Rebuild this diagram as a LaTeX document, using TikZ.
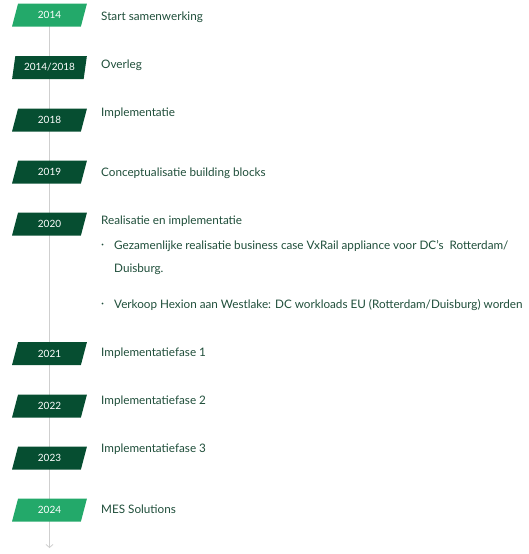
\documentclass[tikz,border=0pt]{standalone}
\usepackage{fontspec}
\setmainfont{Lato}
\usetikzlibrary{shapes.geometric,backgrounds,arrows.meta}
\definecolor{darkbox}{HTML}{064E31}
\definecolor{lightbox}{HTML}{23A96A}
\definecolor{txt}{HTML}{1F4E3A}
\definecolor{axis}{HTML}{CFCFCF}
\tikzset{
  yearbox/.style={shape=trapezium, trapezium left angle=73, trapezium right angle=107,
    trapezium stretches=true, minimum width=75pt, minimum height=23pt, inner sep=0pt,
    fill=darkbox, text=white, font=\fontsize{10}{11}\selectfont},
  yearlight/.style={yearbox, fill=lightbox},
  label/.style={anchor=west, inner sep=0pt, text=txt, font=\fontsize{11.7}{13}\selectfont},
}
\begin{document}
\begin{tikzpicture}[x=1pt,y=-1pt]
\useasboundingbox (0,0) rectangle (529,554);
\node[yearlight] (y2014) at (49.5,15) {2014};
\node[yearbox] (y1418) at (49.5,67.5) {2014/2018};
\node[yearbox] (y2018) at (49.5,120) {2018};
\node[yearbox] (y2019) at (49.5,172) {2019};
\node[yearbox] (y2020) at (49.5,224) {2020};
\node[yearbox] (y2021) at (49.5,353.5) {2021};
\node[yearbox] (y2022) at (49.5,406) {2022};
\node[yearbox] (y2023) at (49.5,458) {2023};
\node[yearlight] (y2024) at (49.5,510) {2024};
\coordinate (end) at (49.5,548);
\begin{scope}[on background layer]
\draw[axis, line width=1.3pt, -{Straight Barb[length=3pt,width=7pt,line width=0.8pt]}] (y2014.center) -- (end);
\end{scope}
\node[label] (l2014) at (101,17) {Start samenwerking};
\node[label] (l1418) at (101,65) {Overleg};
\node[label] (l2018) at (101,113) {Implementatie};
\node[label] (l2019) at (101,173) {Conceptualisatie building blocks};
\node[label] (l2020) at (101,221) {Realisatie en implementatie};
\node[label] (b1dot) at (101,246) {·};
\node[label] (b1) at (114,246) {Gezamenlijke realisatie business case VxRail appliance voor DC's\ \ Rotterdam/};
\node[label] (b1b) at (114,269) {Duisburg.};
\node[label] (b2dot) at (101,305) {·};
\node[label] (b2) at (114,305) {Verkoop Hexion aan Westlake: DC workloads EU (Rotterdam/Duisburg) worden};
\node[label] (l2021) at (101,353) {Implementatiefase 1};
\node[label] (l2022) at (101,401) {Implementatiefase 2};
\node[label] (l2023) at (101,449) {Implementatiefase 3};
\node[label] (l2024) at (101,509) {MES Solutions};
\end{tikzpicture}
\end{document}
